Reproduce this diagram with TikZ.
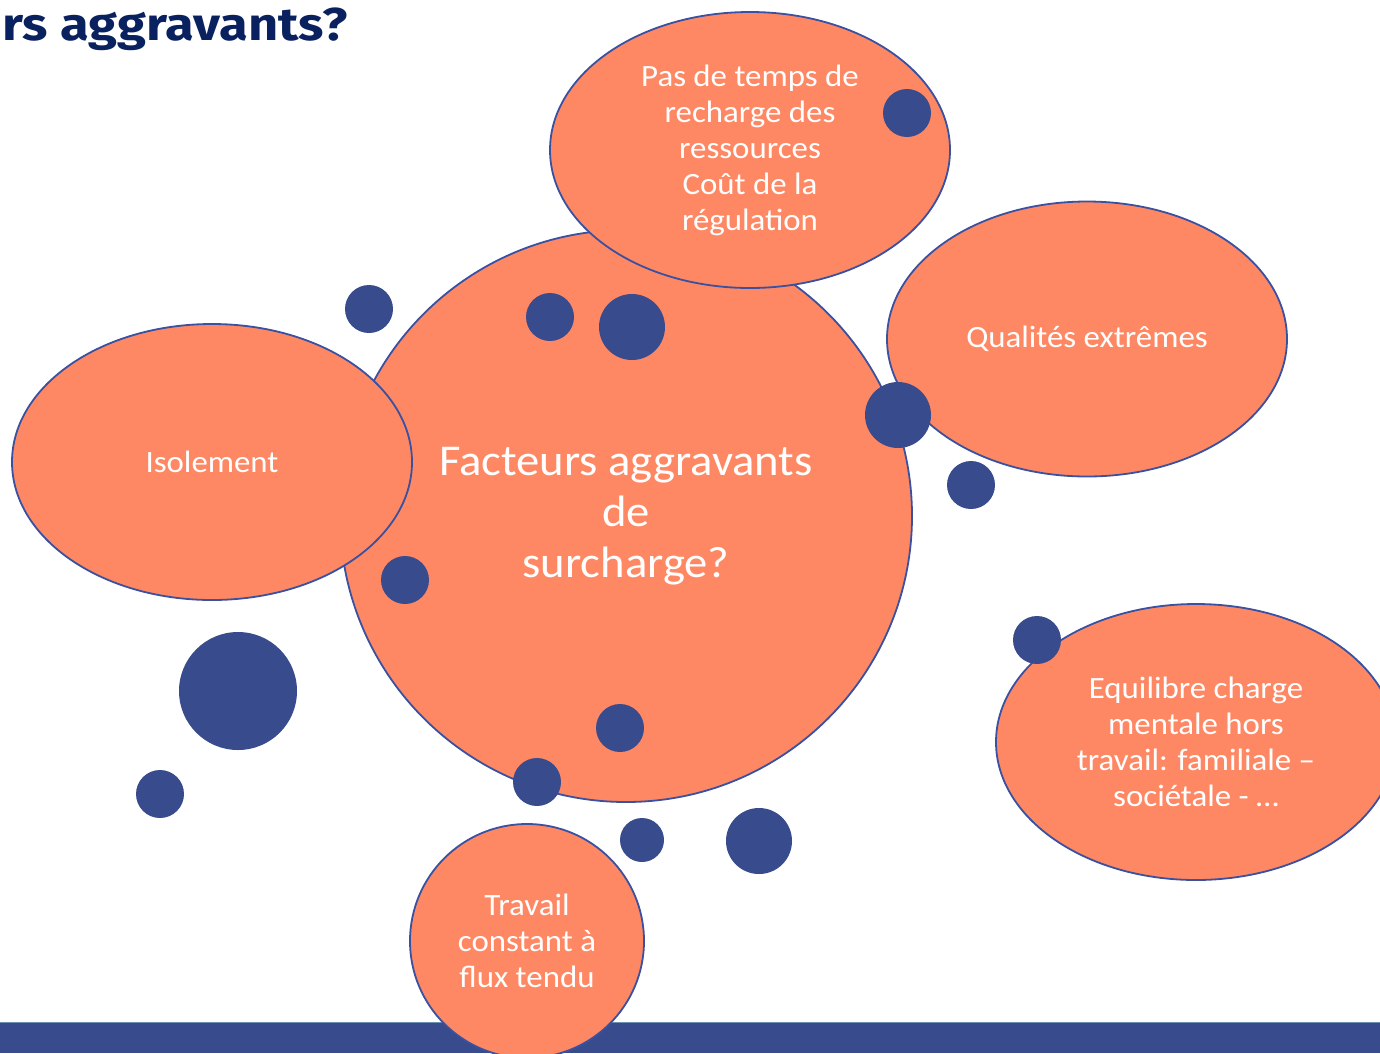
\documentclass[tikz,border=0pt]{standalone}
\usepackage{fontspec}
\setmainfont{Carlito}[FakeStretch=1.06]
\newfontfamily\titlefont{Fira Sans}[FakeStretch=1.14]
\usetikzlibrary{shapes.geometric}
\definecolor{orangef}{HTML}{FF8864}
\definecolor{dotblue}{HTML}{384B8D}
\definecolor{edgeblue}{HTML}{3A50A0}
\definecolor{navy}{HTML}{0A2160}
\definecolor{barline}{HTML}{6F8FB2}
\tikzset{
  bubble/.style={ellipse, draw=edgeblue, line width=1.8pt, fill=orangef, inner sep=0pt,
    text=white, align=center, font=\fontsize{31}{36}\selectfont},
  dot/.style={circle, fill=dotblue, inner sep=0pt, minimum size=#1},
}
\begin{document}
\begin{tikzpicture}[x=1pt,y=-1pt]
\useasboundingbox (0,0) rectangle (1380,1053);
\fill[white] (0,0) rectangle (1380,1053);
% title (cut off at left)
\node[anchor=base east, inner sep=0pt, text=navy, font=\titlefont\bfseries\fontsize{46}{56}\selectfont] (title) at (348,40) {rs aggravants?};
% central circle
\node[bubble, circle, minimum size=572pt, font=\fontsize{44}{51}\selectfont] (center) at (626,516) {Facteurs aggravants\\de\\surcharge?};
% satellites
\node[bubble, minimum width=400pt, minimum height=276pt] (recharge) at (750,150) {Pas de temps de\\recharge des\\ressources\\Coût de la\\régulation};
\node[bubble, minimum width=400pt, minimum height=276pt] (isol) at (212,462) {Isolement};
\node[bubble, minimum width=400pt, minimum height=275pt] (qual) at (1087,339) {Qualités extrêmes};
\node[bubble, minimum width=400pt, minimum height=276pt] (equil) at (1196,742) {Equilibre charge\\mentale hors\\travail: familiale –\\sociétale - …};
% bottom bar
\fill[dotblue] (0,1022) rectangle (1380,1053);
\draw[barline, line width=1.5pt] (0,1022.5) -- (1380,1022.5);
\node[bubble, minimum width=234pt, minimum height=234pt] (travail) at (527,941) {Travail\\constant à\\flux tendu};
% dots
\node[dot=48pt] (d1) at (907,113) {};
\node[dot=48pt] (d2) at (369,309) {};
\node[dot=48pt] (d3) at (550,317) {};
\node[dot=66pt] (d4) at (632,327) {};
\node[dot=66pt] (d5) at (898,415) {};
\node[dot=48pt] (d6) at (971,485) {};
\node[dot=48pt] (d7) at (405,580) {};
\node[dot=118pt] (d8) at (238,691) {};
\node[dot=48pt] (d9) at (160,794) {};
\node[dot=48pt] (d10) at (620,728) {};
\node[dot=48pt] (d11) at (537,782) {};
\node[dot=44pt] (d12) at (642,840) {};
\node[dot=66pt] (d13) at (759,841) {};
\node[dot=48pt] (d14) at (1037,640) {};
\end{tikzpicture}
\end{document}
